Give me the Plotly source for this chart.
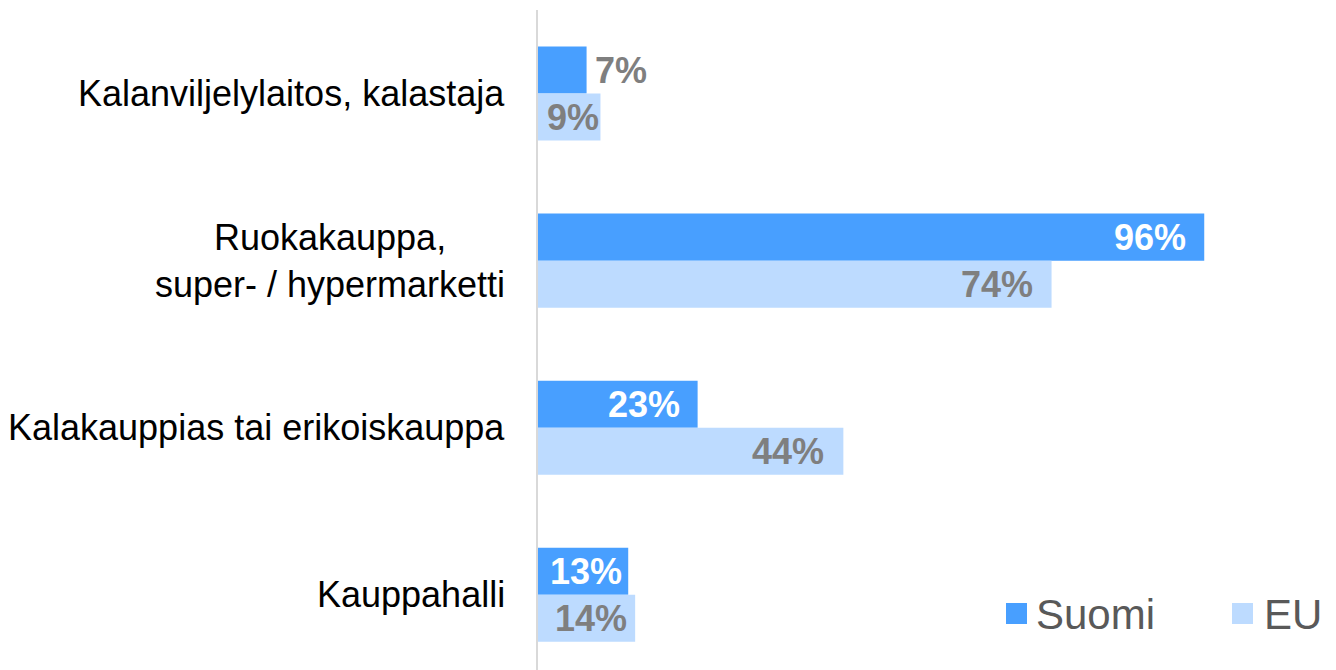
import plotly.graph_objects as go

categories = ["Kalanviljelylaitos, kalastaja",
              "Ruokakauppa,<br>super- / hypermarketti",
              "Kalakauppias tai erikoiskauppa",
              "Kauppahalli"]
suomi = [7, 96, 23, 13]
eu = [9, 74, 44, 14]
series_names = ["Suomi", "EU"]

C_SUOMI = "#489FFF"
C_EU = "#BDDBFF"
GRAY = "#7F7F7F"
FONT = "Liberation Sans, Arial, sans-serif"

OFF = 8  # page body margin
W, H = 1336 - OFF, 670 - OFF
ML, MT, MB = 538 - OFF, 10 - OFF, 0
PW = 694
MR = W - ML - PW
PH = H - MT - MB

fig = go.Figure()
fig.add_trace(go.Bar(y=categories, x=suomi, orientation="h", name=series_names[0],
                     marker=dict(color=C_SUOMI, line=dict(width=0)), hoverinfo="x+y"))
fig.add_trace(go.Bar(y=categories, x=eu, orientation="h", name=series_names[1],
                     marker=dict(color=C_EU, line=dict(width=0)), hoverinfo="x+y"))

bar_off = 0.5 * (1 - 0.437) / 2  # offset of each bar from group center, in category units
LBL = 36

annotations = []
for i, c in enumerate(categories):
    annotations.append(dict(x=0, y=i, xref="x", yref="y", text=c, showarrow=False,
                            xanchor="right", yanchor="middle", align="center", xshift=-31,
                            font=dict(family=FONT, size=36, color="#000000")))

for i, v in enumerate(suomi):
    y = i - bar_off
    if v < 8:
        annotations.append(dict(x=v, y=y, xref="x", yref="y", text=f"{v}%", showarrow=False,
                                xanchor="left", yanchor="middle", xshift=6,
                                font=dict(family=FONT, size=LBL, color=GRAY, weight="bold")))
    elif v >= 20:
        annotations.append(dict(x=v, y=y, xref="x", yref="y", text=f"{v}%", showarrow=False,
                                xanchor="right", yanchor="middle", xshift=-16,
                                font=dict(family=FONT, size=LBL, color="white", weight="bold")))
    else:
        annotations.append(dict(x=v / 2, y=y, xref="x", yref="y", text=f"{v}%", showarrow=False,
                                xanchor="center", yanchor="middle", xshift=3,
                                font=dict(family=FONT, size=LBL, color="white", weight="bold")))
for i, v in enumerate(eu):
    y = i + bar_off
    if v >= 20:
        annotations.append(dict(x=v, y=y, xref="x", yref="y", text=f"{v}%", showarrow=False,
                                xanchor="right", yanchor="middle", xshift=-17,
                                font=dict(family=FONT, size=LBL, color=GRAY, weight="bold")))
    else:
        annotations.append(dict(x=v / 2, y=y, xref="x", yref="y", text=f"{v}%", showarrow=False,
                                xanchor="center", yanchor="middle", xshift=4,
                                font=dict(family=FONT, size=LBL, color=GRAY, weight="bold")))

# custom legend (screen pixel positions -> paper coords)
def px_x(p):
    return (p - OFF - ML) / PW

def px_y(p):
    return (H - MB - (p - OFF)) / PH

shapes = []
for name, col, sx, tx in [(series_names[0], C_SUOMI, 1006, 1034), (series_names[1], C_EU, 1232, 1262)]:
    shapes.append(dict(type="rect", xref="paper", yref="paper", x0=px_x(sx), x1=px_x(sx + 21),
                       y0=px_y(624), y1=px_y(603), fillcolor=col, line=dict(width=0)))
    annotations.append(dict(x=px_x(tx), y=px_y(614), xref="paper", yref="paper", text=name,
                            showarrow=False, xanchor="left", yanchor="middle",
                            font=dict(family=FONT, size=42, color="#595959")))

fig.update_layout(
    width=W, height=H,
    margin=dict(l=ML, r=MR, t=MT, b=MB, pad=0),
    paper_bgcolor="white", plot_bgcolor="white",
    barmode="group", bargap=0.437, bargroupgap=0,
    showlegend=False,
    xaxis=dict(range=[0, 100], showgrid=False, zeroline=False, showticklabels=False,
               showline=False, ticks=""),
    yaxis=dict(range=[3.45, -0.5], showticklabels=False, showgrid=False, zeroline=False,
               showline=True, linecolor="#D9D9D9", linewidth=2, ticks=""),
    annotations=annotations, shapes=shapes,
    font=dict(family=FONT),
)

fig.write_html("out.html")
